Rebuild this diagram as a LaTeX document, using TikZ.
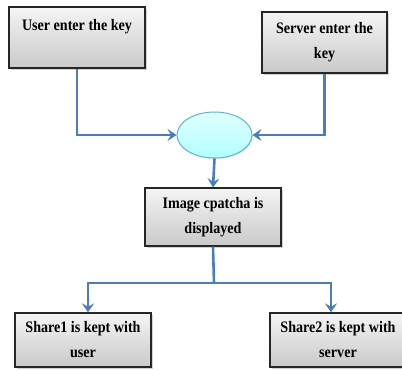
\documentclass[tikz,border=0pt]{standalone}
\usepackage{fontspec}
\setmainfont[FakeStretch=0.88]{Liberation Serif}
\usepackage{tikz}
\usetikzlibrary{shapes.geometric,arrows.meta,shadows}
\definecolor{flowblue}{HTML}{4A7EBB}
\definecolor{hubline}{HTML}{62B4CF}
\tikzset{>={Stealth[length=9pt,width=12pt,inset=3.5pt]}}
\tikzset{procbox/.style={draw=black!85, line width=1.3pt, top color=gray!8, bottom color=gray!42,
    align=center, inner sep=2pt,
    font=\fontsize{16pt}{25pt}\selectfont\bfseries,
    drop shadow={shadow xshift=1.5pt, shadow yshift=-1.5pt, opacity=0.35}}}
\tikzset{hubnode/.style={ellipse, draw=hubline, line width=1pt, top color=cyan!12, bottom color=cyan!30,
    minimum width=75pt, minimum height=46pt, inner sep=0pt,
    drop shadow={shadow xshift=1pt, shadow yshift=-1pt, opacity=0.2}}}
\tikzset{flow/.style={draw=flowblue, line width=2.6pt, ->}}

\begin{document}
\begin{tikzpicture}[x=1pt,y=-1pt]
  \useasboundingbox (0,0) rectangle (402,370);

  \node[procbox, minimum width=136pt, minimum height=61pt] (user) at (77,37.5) {User enter the key\\\mbox{}};
  \node[procbox, minimum width=125pt, minimum height=61pt] (server) at (324.5,42.5) {Server enter the\\key};
  \node[hubnode] (hub) at (214.5,135) {};
  \node[procbox, minimum width=136pt, minimum height=58pt] (image) at (213,217) {Image cpatcha is\\displayed};
  \node[procbox, minimum width=136pt, minimum height=54pt] (share1) at (83,340) {Share1 is kept with\\user};
  \node[procbox, minimum width=136pt, minimum height=54pt] (share2) at (338,340) {Share2 is kept with\\server};

  \coordinate (split) at (214,283);

  \path[flow] (user.south) |- (hub.west);
  \path[flow] (server.south) |- (hub.east);
  \path[flow] (hub.south) -- (image.north);
  \draw[draw=flowblue, line width=2.6pt] (image.south) -- (split);
  \path[flow] (split) -| ([xshift=5pt]share1.north);
  \path[flow] (split) -| ([xshift=-7pt]share2.north);
\end{tikzpicture}
\end{document}
